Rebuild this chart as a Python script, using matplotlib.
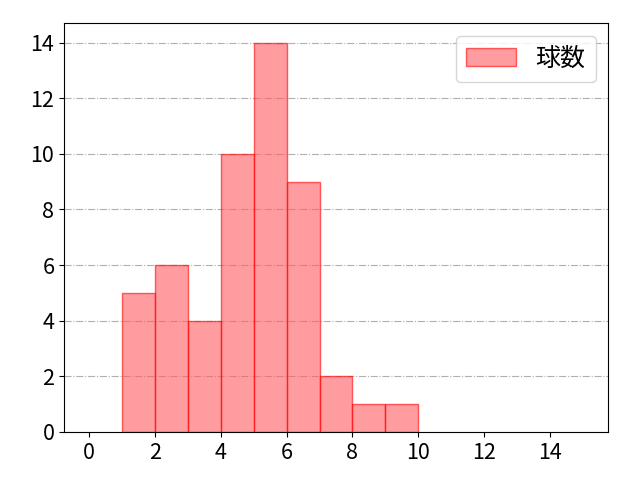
import numpy as np
import matplotlib
matplotlib.use('Agg')
import matplotlib.pyplot as plt

plt.rcParams['font.family'] = ['Noto Sans CJK JP', 'DejaVu Sans']

bin_edges = [1, 2, 3, 4, 5, 6, 7, 8, 9, 10]
counts = [5, 6, 4, 10, 14, 9, 2, 1, 1]
label = '球数'

fig, ax = plt.subplots(figsize=(6.4, 4.8), dpi=100)
fig.subplots_adjust(left=0.1, right=0.95, bottom=0.1, top=0.952)

ax.hist(bin_edges[:-1], bins=bin_edges, weights=counts,
        color='#ff5a5f', alpha=0.6, edgecolor='red', linewidth=1.0, label=label)

ax.set_xlim(-0.75, 15.75)
ax.set_ylim(0, 14.7)
ax.set_xticks(np.arange(0, 15, 2))
ax.set_yticks(np.arange(0, 15, 2))
ax.tick_params(labelsize=15.5)
ax.grid(axis='y', linestyle='-.', color='#b0b0b0', linewidth=0.8)
ax.set_axisbelow(True)
ax.legend(loc='upper right', fontsize=18)

fig.savefig('out.png', dpi=100)
